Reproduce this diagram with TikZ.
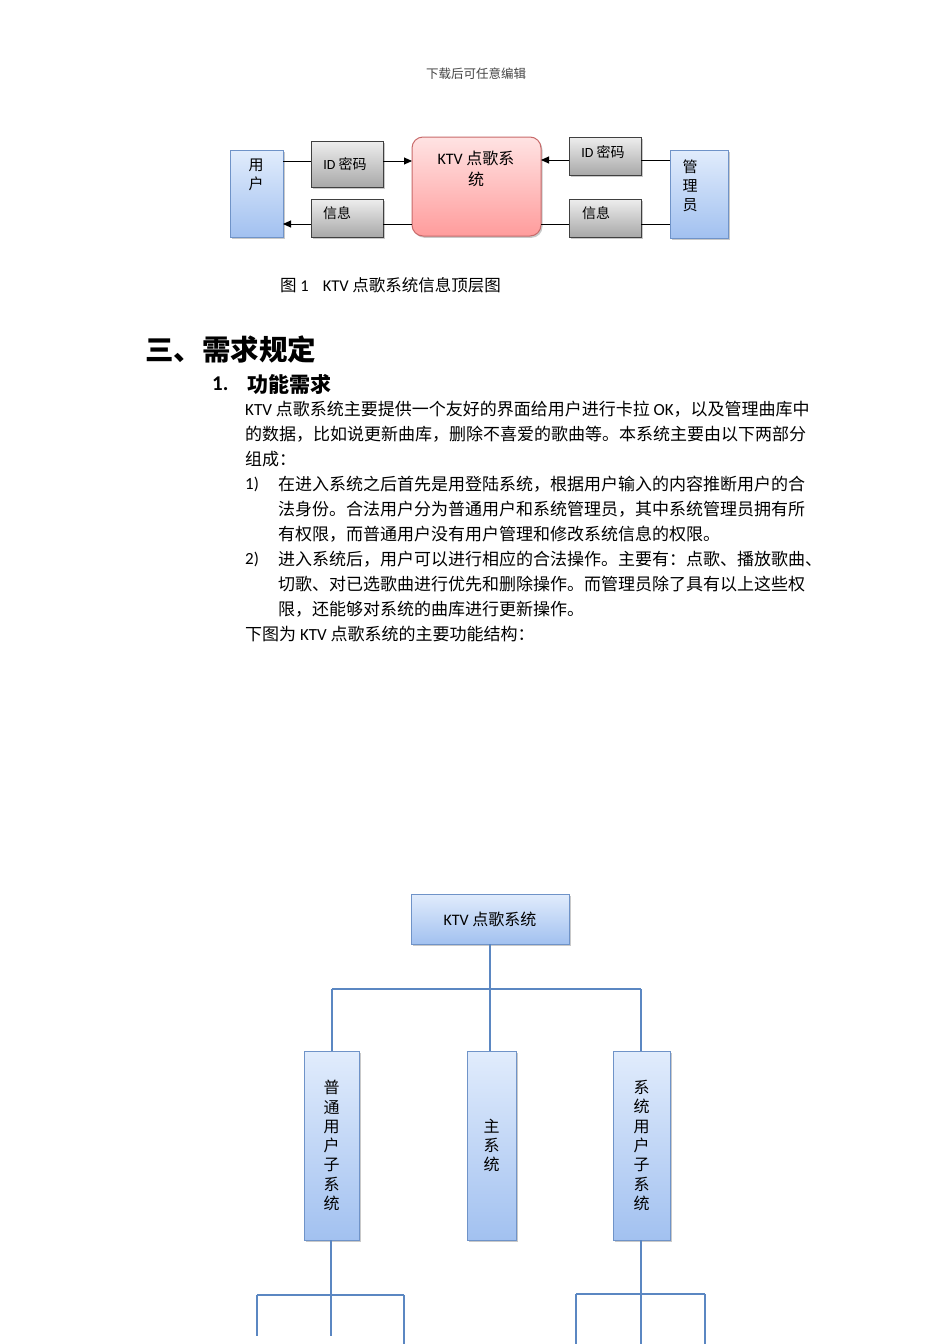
\documentclass[tikz,border=0pt]{standalone}
\usepackage{fontspec}
\setmainfont{Noto Sans CJK SC}
\newfontfamily\lat{Carlito}
\usetikzlibrary{arrows.meta,shadows}
\definecolor{bbord}{HTML}{6F93C8}
\definecolor{btop}{HTML}{E1ECFC}
\definecolor{bbot}{HTML}{A2C1F0}
\definecolor{gbord}{HTML}{404040}
\definecolor{gtop}{HTML}{EEEEEE}
\definecolor{gbot}{HTML}{A8A8A8}
\definecolor{ptop}{HTML}{FFE3E3}
\definecolor{pbot}{HTML}{FF9C9C}
\definecolor{pbord}{HTML}{C86A6A}
\definecolor{lblue}{HTML}{5B87C2}
\definecolor{hdr}{HTML}{444444}
\newcommand\myfs[1]{\fontsize{#1}{#1}\selectfont}
\begin{document}
\begin{tikzpicture}[x=1pt,y=-1pt,
  box/.style={inner sep=0pt, outer sep=0pt},
  shad/.style={drop shadow={shadow xshift=1.5pt, shadow yshift=-1.8pt, opacity=0.35, fill=black!60}},
  bluebox/.style={box, shad, draw=bbord, line width=1pt, top color=btop, bottom color=bbot},
  graybox/.style={box, shad, draw=gbord, line width=0.9pt, top color=gtop, bottom color=gbot},
  pinkbox/.style={box, shad, draw=pbord, line width=1pt, rounded corners=11pt, top color=ptop, bottom color=pbot},
  lbl/.style={inner sep=0pt, align=center},
  body/.style={inner sep=0pt, anchor=west, font=\myfs{17}},
  tline/.style={draw=black, line width=0.9pt},
  arr/.style={-{Triangle[length=8pt,width=7pt]}},
  bline/.style={draw=lblue, line width=1.3pt}]
\useasboundingbox (0,0) rectangle (950,1344);
\fill[white] (0,0) rectangle (950,1344);

% header
\node[lbl, text=hdr, font=\myfs{12.5}] (hdr) at (476,74) {下载后可任意编辑};

% ---------- top diagram ----------
\node[bluebox, minimum width=53pt, minimum height=87pt] (user) at (256.5,193.5) {};
\node[graybox, minimum width=72pt, minimum height=46pt] (id1) at (347,164) {};
\node[graybox, minimum width=72pt, minimum height=38pt] (info1) at (347,218) {};
\node[pinkbox, minimum width=129pt, minimum height=99pt] (ktv) at (476.5,186.5) {};
\node[graybox, minimum width=72pt, minimum height=38pt] (id2) at (605,156) {};
\node[graybox, minimum width=72pt, minimum height=38pt] (info2) at (605,218) {};
\node[bluebox, minimum width=58pt, minimum height=88pt] (admin) at (699,194) {};

\node[lbl, font=\fontsize{15pt}{19pt}\selectfont] (userT) at (256,174.5) {用\\户};
\node[lbl, font=\myfs{14}] (id1T) at (345,164) {{\lat ID} 密码};
\node[lbl, font=\myfs{14}] (info1T) at (337,213) {信息};
\node[lbl, font=\fontsize{16pt}{21pt}\selectfont] (ktvT) at (476,168.5) {{\lat KTV} 点歌系\\统};
\node[lbl, font=\myfs{14}] (id2T) at (603,152) {{\lat ID} 密码};
\node[lbl, font=\myfs{14}] (info2T) at (596,213) {信息};
\node[lbl, font=\fontsize{15pt}{19pt}\selectfont] (adminT) at (690,186) {管\\理\\员};

\coordinate (a1) at (0,161);
\coordinate (a2) at (0,224);
\coordinate (b1) at (0,160);
\draw[tline] (user.east|-a1) -- (id1.west|-a1);
\draw[tline,arr] (id1.east|-a1) -- (ktv.west|-a1);
\draw[tline] (ktv.west|-a2) -- (info1.east|-a2);
\draw[tline,arr] (info1.west|-a2) -- (user.east|-a2);
\draw[tline] (admin.west|-b1) -- (id2.east|-b1);
\draw[tline,arr] (id2.west|-b1) -- (ktv.east|-b1);
\draw[tline] (ktv.east|-a2) -- (info2.west|-a2);
\draw[tline] (info2.east|-a2) -- (admin.west|-a2);

% caption
\node[body, font=\myfs{16.5}] (cap) at (280,285) {图 {\lat 1}\hspace{14pt}{\lat KTV} 点歌系统信息顶层图};

% ---------- text ----------
\node[body, font=\bfseries\myfs{28.5}] (h1) at (145,349) {三、需求规定};
\node[body, font=\bfseries\myfs{21}] (h2n) at (212,384) {{\lat\bfseries 1.}};
\node[body, font=\bfseries\myfs{21}] (h2) at (247,384) {功能需求};

\node[body] (l1) at (245,409) {{\lat KTV} 点歌系统主要提供一个友好的界面给用户进行卡拉 {\lat OK}，以及管理曲库中};
\node[body] (l2) at (245,434) {的数据，比如说更新曲库，删除不喜爱的歌曲等。本系统主要由以下两部分};
\node[body] (l3) at (245,459) {组成：};
\node[body] (n1) at (245,484) {{\lat 1)}};
\node[body] (l4) at (278,484) {在进入系统之后首先是用登陆系统，根据用户输入的内容推断用户的合};
\node[body] (l5) at (278,509) {法身份。合法用户分为普通用户和系统管理员，其中系统管理员拥有所};
\node[body] (l6) at (278,534) {有权限，而普通用户没有用户管理和修改系统信息的权限。};
\node[body] (n2) at (245,559) {{\lat 2)}};
\node[body] (l7) at (278,559) {进入系统后，用户可以进行相应的合法操作。主要有：点歌、播放歌曲、};
\node[body] (l8) at (278,584) {切歌、对已选歌曲进行优先和删除操作。而管理员除了具有以上这些权};
\node[body] (l9) at (278,609) {限，还能够对系统的曲库进行更新操作。};
\node[body] (l10) at (245,634) {下图为 {\lat KTV} 点歌系统的主要功能结构：};

% ---------- bottom diagram ----------
\node[bluebox, minimum width=158pt, minimum height=50pt, font=\myfs{16}] (root) at (490,919) {{\lat KTV} 点歌系统};
\node[bluebox, minimum width=55pt, minimum height=189pt, align=center, font=\fontsize{16pt}{19.3pt}\selectfont] (s1) at (331.5,1145.5) {普\\通\\用\\户\\子\\系\\统};
\node[bluebox, minimum width=49pt, minimum height=189pt, align=center, font=\fontsize{16pt}{19.3pt}\selectfont] (s2) at (491.5,1145.5) {主\\系\\统};
\node[bluebox, minimum width=57pt, minimum height=189pt, align=center, font=\fontsize{16pt}{19.3pt}\selectfont] (s3) at (641.5,1145.5) {系\\统\\用\\户\\子\\系\\统};

% line x positions (whole pixels)
\coordinate (xL) at (332,989);
\coordinate (xM) at (490,989);
\coordinate (xR) at (641,989);
\draw[bline] (root.south) -- (xM|-s2.north);
\draw[bline] (xL) -- (xR);
\draw[bline] (xL) -- (xL|-s1.north);
\draw[bline] (xR) -- (xR|-s3.north);

\coordinate (ll) at (257,1295);
\coordinate (lr) at (404,1295);
\coordinate (lle) at (257,1336);
\coordinate (lre) at (404,1344);
\coordinate (lme) at (331,1336);
\draw[bline] (lme|-s1.south) -- (lme);
\draw[bline] (ll) -- (lr);
\draw[bline] (ll) -- (lle);
\draw[bline] (lr) -- (lre);

\coordinate (rl) at (576,1294);
\coordinate (rr) at (705,1294);
\coordinate (rle) at (576,1344);
\coordinate (rre) at (705,1344);
\coordinate (rme) at (641,1344);
\draw[bline] (rme|-s3.south) -- (rme);
\draw[bline] (rl) -- (rr);
\draw[bline] (rl) -- (rle);
\draw[bline] (rr) -- (rre);
\end{tikzpicture}
\end{document}
